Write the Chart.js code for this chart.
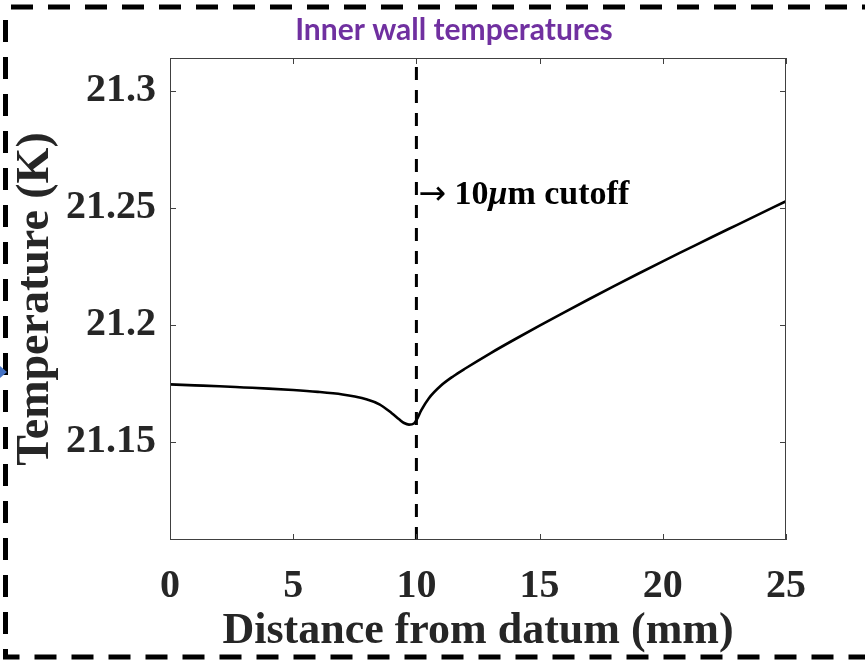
<!DOCTYPE html>
<html>
<head>
<meta charset="utf-8">
<title>Inner wall temperatures</title>
<script src="https://cdn.jsdelivr.net/npm/chart.js@4.4.1/dist/chart.umd.min.js"></script>
<style>
    html, body { margin: 0; padding: 0; background: #ffffff; }
    canvas { display: block; }
</style>
</head>
<body>
<canvas id="graficoTemperatura" width="865" height="664"></canvas>
<script>
// Distance along the wall (mm) and inner wall temperature (K)
const distancia = [0, 1, 2, 3, 4, 5, 6, 7, 7.5, 8, 8.5, 9, 9.3, 9.5, 9.7, 9.9, 10, 10.2, 10.5, 11, 11.5, 12, 13, 14, 15, 16, 17, 18, 19, 20, 21, 22, 23, 24, 25];
const temperatura = [21.1745, 21.1741, 21.1737, 21.1732, 21.1727, 21.1721, 21.1713, 21.1702, 21.1693, 21.1680, 21.1660, 21.1622, 21.1596, 21.1580, 21.1573, 21.1578, 21.1592, 21.1635, 21.1685, 21.1740, 21.1780, 21.1814, 21.1878, 21.1938, 21.1996, 21.2053, 21.2109, 21.2164, 21.2218, 21.2271, 21.2323, 21.2375, 21.2426, 21.2477, 21.2528];

// 10 um cutoff marker
const corteX = [10, 10];
const limitesY = [21.108, 21.314];
const textoCorte = ['\u2192', ' 10', '\u03bc', 'm cutoff'];
const alturaTextoCorte = 21.2515;

// Tick labels
const ticksX = [0, 5, 10, 15, 20, 25];
const ticksY = [21.15, 21.2, 21.25, 21.3];
const rotulosY = ['21.15', '21.2', '21.25', '21.3'];

const titulo = 'Inner wall temperatures';
const tituloX = 'Distance from datum (mm)';
const tituloY = 'Temperature (K)';

const corTexto = '#262626';
const fonteSerif = "'Liberation Serif', 'Times New Roman', serif";

// Dashed frame around the whole figure, plus the title
const pluginMoldura = {
    id: 'moldura',
    afterDraw(chart) {
        const ctx = chart.ctx;
        ctx.save();
        ctx.strokeStyle = '#000000';
        ctx.lineWidth = 5;
        ctx.setLineDash([22, 15]);
        ctx.beginPath();
        ctx.moveTo(11, 7);
        ctx.lineTo(865, 7);
        ctx.stroke();
        ctx.beginPath();
        ctx.moveTo(5.5, 20);
        ctx.lineTo(5.5, 657);
        ctx.lineTo(865, 657);
        ctx.stroke();
        ctx.setLineDash([]);

        // small connector arrowhead at the left edge
        ctx.fillStyle = '#4472C4';
        ctx.beginPath();
        ctx.moveTo(0, 366);
        ctx.lineTo(7, 372);
        ctx.lineTo(0, 378);
        ctx.closePath();
        ctx.fill();

        ctx.fillStyle = '#7030A0';
        ctx.font = "bold 30px Lato, 'Open Sans', sans-serif";
        ctx.textAlign = 'center';
        ctx.textBaseline = 'alphabetic';
        ctx.fillText(titulo, 454, 40);
        ctx.restore();
    }
};

// Axes box with inward ticks on all four sides
const pluginCaixa = {
    id: 'caixa',
    afterDatasetsDraw(chart) {
        const { ctx, chartArea: a, scales } = chart;
        const tam = 6;
        ctx.save();
        ctx.strokeStyle = '#404040';
        ctx.lineWidth = 1;
        ctx.strokeRect(a.left + 0.5, a.top + 0.5, a.right - a.left - 1, a.bottom - a.top - 1);
        ctx.beginPath();
        scales.x.ticks.forEach(t => {
            const px = Math.round(scales.x.getPixelForValue(t.value)) + 0.5;
            ctx.moveTo(px, a.bottom);
            ctx.lineTo(px, a.bottom - tam);
            ctx.moveTo(px, a.top);
            ctx.lineTo(px, a.top + tam);
        });
        scales.y.ticks.forEach(t => {
            const py = Math.round(scales.y.getPixelForValue(t.value)) + 0.5;
            ctx.moveTo(a.left, py);
            ctx.lineTo(a.left + tam, py);
            ctx.moveTo(a.right, py);
            ctx.lineTo(a.right - tam, py);
        });
        ctx.stroke();

        // cutoff annotation with mixed styles
        let x = scales.x.getPixelForValue(corteX[0]) + 2;
        const y = scales.y.getPixelForValue(alturaTextoCorte);
        const fontes = [
            "normal 33px 'DejaVu Sans', sans-serif",
            'bold 34px ' + fonteSerif,
            'italic bold 34px ' + fonteSerif,
            'bold 34px ' + fonteSerif
        ];
        ctx.fillStyle = '#000000';
        ctx.textBaseline = 'alphabetic';
        ctx.textAlign = 'left';
        textoCorte.forEach((parte, i) => {
            ctx.font = fontes[i];
            ctx.fillText(parte, x, y);
            x += ctx.measureText(parte).width;
        });
        ctx.restore();
    }
};

const ctx = document.getElementById('graficoTemperatura').getContext('2d');
const chartTemperatura = new Chart(ctx, {
    type: 'scatter',
    data: {
        datasets: [{
            label: 'Inner wall',
            data: distancia.map((d, i) => ({ x: d, y: temperatura[i] })),
            showLine: true,
            borderColor: '#000000',
            borderWidth: 2.6,
            pointRadius: 0,
            cubicInterpolationMode: 'monotone'
        }, {
            label: 'Cutoff',
            data: corteX.map((d, i) => ({ x: d, y: limitesY[i] })),
            showLine: true,
            borderColor: '#000000',
            borderWidth: 3,
            borderDash: [13, 10],
            pointRadius: 0
        }]
    },
    options: {
        responsive: false,
        animation: false,
        layout: { padding: { top: 58, right: 79, left: 0, bottom: 0 } },
        plugins: {
            legend: { display: false },
            tooltip: { enabled: false }
        },
        scales: {
            x: {
                type: 'linear',
                position: 'bottom',
                min: 0,
                max: 25,
                grid: { display: false, drawTicks: false },
                border: { display: false },
                afterBuildTicks: scale => { scale.ticks = ticksX.map(v => ({ value: v })); },
                afterFit: scale => { scale.height = 124; },
                ticks: {
                    color: corTexto,
                    padding: 23,
                    maxRotation: 0,
                    font: { family: fonteSerif, size: 40, weight: 'bold' },
                    callback: v => String(v)
                },
                title: {
                    display: true,
                    text: tituloX,
                    color: corTexto,
                    padding: { bottom: 6 },
                    font: { family: fonteSerif, size: 44, weight: 'bold' }
                }
            },
            y: {
                type: 'linear',
                position: 'left',
                min: limitesY[0],
                max: limitesY[1],
                grid: { display: false, drawTicks: false },
                border: { display: false },
                afterBuildTicks: scale => { scale.ticks = ticksY.map(v => ({ value: v })); },
                afterFit: scale => { scale.width = 170; },
                ticks: {
                    color: corTexto,
                    padding: 14,
                    font: { family: fonteSerif, size: 40, weight: 'bold' },
                    callback: (v, i) => rotulosY[i]
                },
                title: {
                    display: true,
                    text: tituloY,
                    color: corTexto,
                    padding: { top: 9 },
                    font: { family: fonteSerif, size: 46, weight: 'bold' }
                }
            }
        }
    },
    plugins: [pluginCaixa, pluginMoldura]
});
</script>
</body>
</html>
